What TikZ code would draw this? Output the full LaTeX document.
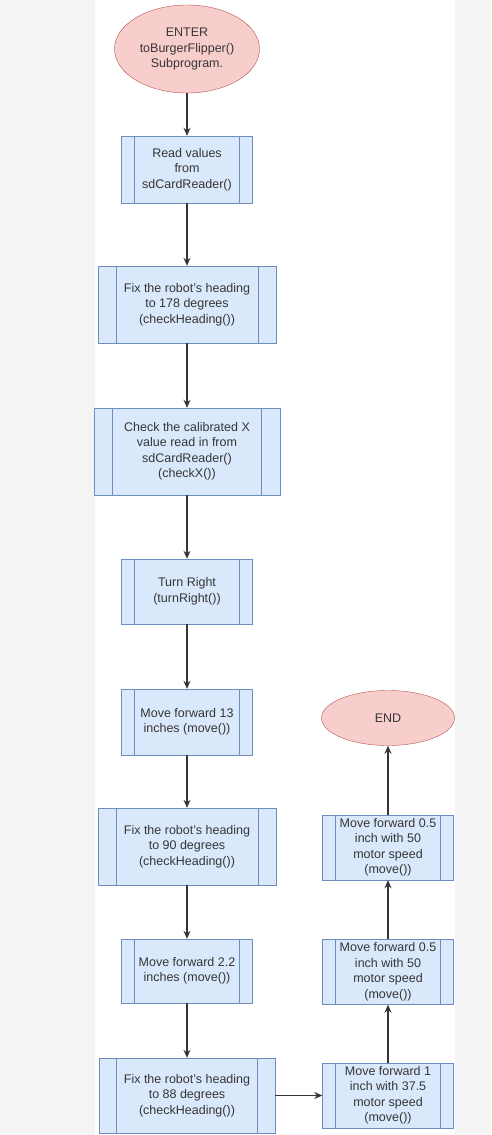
\documentclass[tikz,border=0pt]{standalone}
\usepackage{fontspec}
\setmainfont{Liberation Sans}
\usetikzlibrary{shapes.geometric, arrows.meta, calc}

\definecolor{procfill}{HTML}{DAE8FC}
\definecolor{procline}{HTML}{6C8EBF}
\definecolor{termfill}{HTML}{F8CECC}
\definecolor{termline}{HTML}{B85450}
\definecolor{inkgray}{HTML}{363636}
\definecolor{sidegray}{HTML}{F4F4F4}

\begin{document}
\begin{tikzpicture}[x=1pt, y=-1pt,
  font=\fontsize{12.5}{15.5}\selectfont,
  term/.style={ellipse, draw=termline, fill=termfill, text=inkgray, align=center, inner sep=0pt},
  proc/.style={rectangle, draw=procline, fill=procfill, text=inkgray, align=center, inner sep=0pt,
    minimum width=#1,
    path picture={
      \draw[procline] ($(path picture bounding box.north west)!0.1!(path picture bounding box.north east)$)
        -- ($(path picture bounding box.south west)!0.1!(path picture bounding box.south east)$);
      \draw[procline] ($(path picture bounding box.north east)!0.1!(path picture bounding box.north west)$)
        -- ($(path picture bounding box.south east)!0.1!(path picture bounding box.south west)$);
    }},
  proc/.default=131pt,
  flow/.style={draw=inkgray, line width=1.3pt, -{Stealth[length=8pt, width=7pt]}}]

  \fill[sidegray] (0,0) rectangle (491,1135);
  \fill[white] (95,0) rectangle (455,1135);
  \useasboundingbox (0,0) rectangle (491,1135);

  \node[term, minimum width=145pt, minimum height=88pt] (enter) at (187,49) {ENTER\\toBurgerFlipper()\\Subprogram.};
  \node[proc, minimum height=67pt] (read) at (187,169.5) {Read values\\from\\sdCardReader()};
  \node[proc=178pt, minimum height=77pt] (head178) at (187,304.5) {Fix the robot's heading\\to 178 degrees\\(checkHeading())};
  \node[proc=186pt, minimum height=87pt] (checkx) at (187,451.5) {Check the calibrated X\\value read in from\\sdCardReader()\\(checkX())};
  \node[proc, minimum height=65pt] (turn) at (187,591.5) {Turn Right\\(turnRight())};
  \node[proc, minimum height=66pt] (fwd13) at (187,722) {Move forward 13\\inches (move())};
  \node[proc=178pt, minimum height=77pt] (head90) at (187,846.5) {Fix the robot's heading\\to 90 degrees\\(checkHeading())};
  \node[proc, minimum height=64pt] (fwd22) at (187,971) {Move forward 2.2\\inches (move())};
  \node[proc=176pt, minimum height=75pt] (head88) at (187,1095.5) {Fix the robot's heading\\to 88 degrees\\(checkHeading())};

  \node[proc, minimum height=65pt] (fwd1) at (388,1095.5) {Move forward 1\\inch with 37.5\\motor speed\\(move())};
  \node[proc, minimum height=65pt] (fwdlow) at (388,972) {Move forward 0.5\\inch with 50\\motor speed\\(move())};
  \node[proc, minimum height=65pt] (fwdup) at (388,847.5) {Move forward 0.5\\inch with 50\\motor speed\\(move())};
  \node[term, minimum width=133pt, minimum height=55pt] (end) at (388,718) {END};

  \foreach \a/\b in {enter/read, read/head178, head178/checkx, checkx/turn, turn/fwd13,
                     fwd13/head90, head90/fwd22, fwd22/head88, head88/fwd1,
                     fwd1/fwdlow, fwdlow/fwdup, fwdup/end}
    \draw[flow] (\a) -- (\b);
\end{tikzpicture}
\end{document}
